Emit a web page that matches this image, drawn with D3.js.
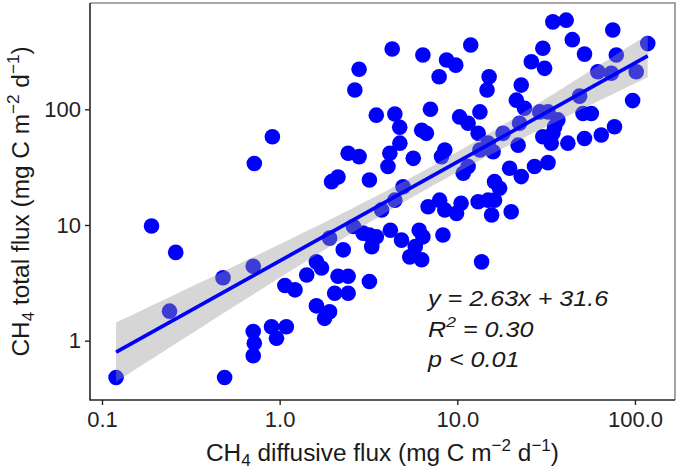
<!DOCTYPE html>
<html>
<head>
<meta charset="utf-8">
<script src="https://cdn.jsdelivr.net/npm/d3@7"></script>
<style>
  html, body { margin: 0; padding: 0; background: #fff; }
  svg { display: block; font-family: "Liberation Sans", Arial, sans-serif; }
</style>
</head>
<body>
<div id="chart"></div>
<script>
// CH4 diffusive flux (x) vs total flux (y), mg C m-2 d-1
const diffusiveFlux = [
  0.12, 0.49, 0.19, 0.26, 0.24, 0.48, 0.71, 0.72, 0.91, 0.71,
  0.72, 0.71, 0.90, 1.09, 0.96, 1.07, 1.22, 1.42, 1.61, 1.72,
  1.61, 1.91, 1.79, 2.04, 2.43, 2.13, 2.43, 3.2, 2.28, 1.91,
  2.6, 2.95, 3.2, 3.5, 3.3, 4.2, 4.85, 5.8, 5.4, 6.3,
  6.1, 6.4, 8.3, 13.7, 1.96, 2.13, 3.2, 4.95, 4.45, 3.75,
  2.43, 2.8, 4.17, 4.75, 4.07, 5.65, 8.5, 8.15, 10.8, 11.5,
  6.85, 7.95, 8.5, 9.9, 10.5, 13.1, 14.9, 16.2, 15.6, 20.1,
  16.2, 17.3, 19.7, 22.9, 27.2, 32.4, 10.3, 11.5, 13.4, 13.1,
  18.1, 14.9, 13.4, 15.9, 22, 22.4, 21.5, 23.9, 29.1, 32.4,
  36.8, 35.3, 30.3, 33.8, 41.9, 52, 64.6, 76.7, 51, 56.8,
  48.8, 97, 34.5, 22.9, 15.1, 14.7, 11.9, 9.8, 8.7, 7.9,
  6.4, 4.3, 2.8, 2.65, 7.06, 3.5, 4.45, 4.74, 6.3, 6.7,
  34.5, 41, 75, 44.4, 118, 30.3, 52, 78.5, 26.1, 31,
  61.8, 73.6, 101.6
];
const totalFlux = [
  0.48, 0.48, 9.8, 5.8, 1.8, 3.5, 4.4, 34, 58, 1.2,
  0.95, 0.74, 1.32, 1.32, 1.05, 3.0, 2.75, 3.7, 4.8, 4.25,
  2.0, 1.78, 1.56, 2.57, 2.57, 3.6, 3.6, 3.25, 6.1, 7.7,
  9.7, 8.5, 8.2, 7.9, 6.5, 9.0, 7.4, 6.5, 5.3, 5.0,
  9.0, 7.9, 8.2, 4.8, 23.7, 26, 24.5, 21.4, 16.4, 13.5,
  41.7, 39, 41.7, 51, 32, 37.7, 44.5, 39, 28, 32,
  14.4, 16.4, 13.5, 12.6, 15.4, 15.9, 16.4, 16.4, 12.2, 13.0,
  23.7, 20.8, 30.9, 26.2, 32, 34.6, 86, 75.7, 95, 62,
  62, 51, 44.5, 43, 49, 75.7, 120, 102, 95, 95,
  81, 70.7, 58, 51, 51, 56, 60, 70.7, 92, 92,
  130, 119, 62, 162, 191, 147, 360, 241, 267, 191,
  295, 332, 222, 147, 100, 89, 91, 70, 66, 62,
  570, 590, 485, 400, 370, 337, 300, 295, 258, 226,
  211, 205, 211
];

const xTickValues = [0.1, 1, 10, 100];
const xTickLabels = ["0.1", "1.0", "10.0", "100.0"];
const yTickValues = [1, 10, 100];
const yTickLabels = ["1", "10", "100"];
const xDomain = [0.0856, 168];
const yDomain = [0.307, 830];

const statLines = [
  [{ t: "y = 2.63x + 31.6" }],
  [{ t: "R" }, { t: "2", sup: true }, { t: " = 0.30" }],
  [{ t: "p < 0.01" }],
];
const xTitle = [
  { t: "CH" }, { t: "4", sub: true }, { t: " diffusive flux (mg C m" },
  { t: "\u22122", sup: true }, { t: " d" }, { t: "\u22121", sup: true }, { t: ")" },
];
const yTitle = [
  { t: "CH" }, { t: "4", sub: true }, { t: " total flux (mg C m" },
  { t: "\u22122", sup: true }, { t: " d" }, { t: "\u22121", sup: true }, { t: ")" },
];

class FluxScatter {
  constructor({ el, xs, ys }) {
    this.el = el;
    this.data = xs.map((x, i) => ({ x, y: ys[i] }));
    this.initVis();
  }

  initVis() {
    const vis = this;
    vis.width = 678;
    vis.height = 473;
    vis.margin = { top: 3, right: 3, bottom: 73, left: 90 };
    vis.blue = "#0000ff";

    vis.svg = d3
      .select(vis.el)
      .append("svg")
      .attr("width", vis.width)
      .attr("height", vis.height);

    vis.x = d3
      .scaleLog()
      .domain(xDomain)
      .range([vis.margin.left, vis.width - vis.margin.right]);
    vis.y = d3
      .scaleLog()
      .domain(yDomain)
      .range([vis.height - vis.margin.bottom, vis.margin.top]);

    vis.wrangleData();
  }

  wrangleData() {
    const vis = this;
    // linear fit in log-log space with 95% confidence band (like geom_smooth)
    const lx = vis.data.map((d) => Math.log10(d.x));
    const ly = vis.data.map((d) => Math.log10(d.y));
    const n = lx.length;
    const mx = d3.mean(lx);
    const my = d3.mean(ly);
    const sxx = d3.sum(lx, (v) => (v - mx) ** 2);
    const sxy = d3.sum(lx, (v, i) => (v - mx) * (ly[i] - my));
    const b = sxy / sxx;
    const a = my - b * mx;
    const s = Math.sqrt(d3.sum(lx, (v, i) => (ly[i] - a - b * v) ** 2) / (n - 2));
    const t = 1.978;
    const [x0, x1] = d3.extent(lx);
    vis.fit = d3.range(80).map((i) => {
      const u = x0 + ((x1 - x0) * i) / 79;
      const yhat = a + b * u;
      const se = s * Math.sqrt(1 / n + (u - mx) ** 2 / sxx);
      return {
        x: 10 ** u,
        y: 10 ** yhat,
        lo: 10 ** (yhat - t * se),
        hi: 10 ** (yhat + t * se),
      };
    });
    vis.updateVis();
  }

  updateVis() {
    const vis = this;
    const left = vis.margin.left;
    const right = vis.width - vis.margin.right;
    const top = vis.margin.top;
    const bottom = vis.height - vis.margin.bottom;

    // points
    vis.svg
      .append("g")
      .selectAll("circle")
      .data(vis.data)
      .join("circle")
      .attr("cx", (d) => vis.x(d.x))
      .attr("cy", (d) => vis.y(d.y))
      .attr("r", 7.8)
      .attr("fill", vis.blue);

    // confidence band + fitted line
    vis.svg
      .append("path")
      .datum(vis.fit)
      .attr("fill", "#999999")
      .attr("fill-opacity", 0.4)
      .attr(
        "d",
        d3
          .area()
          .x((d) => vis.x(d.x))
          .y0((d) => vis.y(d.lo))
          .y1((d) => vis.y(d.hi))
      );
    vis.svg
      .append("path")
      .datum(vis.fit)
      .attr("fill", "none")
      .attr("stroke", vis.blue)
      .attr("stroke-width", 3.6)
      .attr(
        "d",
        d3
          .line()
          .x((d) => vis.x(d.x))
          .y((d) => vis.y(d.y))
      );

    // panel frame
    vis.svg
      .append("path")
      .attr("d", `M${left},${top}H${right}V${bottom}`)
      .attr("fill", "none")
      .attr("stroke", "#8c8c8c")
      .attr("stroke-width", 1.6);
    vis.svg
      .append("path")
      .attr("d", `M${left},${top}V${bottom}H${right}`)
      .attr("fill", "none")
      .attr("stroke", "#262626")
      .attr("stroke-width", 1.6);

    // axes
    vis.svg
      .append("g")
      .attr("transform", `translate(0,${bottom})`)
      .call(
        d3
          .axisBottom(vis.x)
          .tickValues(xTickValues)
          .tickFormat((d, i) => xTickLabels[i])
          .tickSize(5)
          .tickPadding(6)
      )
      .call((g) => g.select(".domain").remove())
      .call((g) => g.selectAll(".tick line").attr("stroke", "#262626").attr("stroke-width", 1.4))
      .call((g) =>
        g
          .selectAll(".tick text")
          .attr("font-size", 22)
          .attr("font-family", null)
          .attr("fill", "#222")
      );
    vis.svg
      .append("g")
      .attr("transform", `translate(${left},0)`)
      .call(
        d3
          .axisLeft(vis.y)
          .tickValues(yTickValues)
          .tickFormat((d, i) => yTickLabels[i])
          .tickSize(5)
          .tickPadding(4)
      )
      .call((g) => g.select(".domain").remove())
      .call((g) => g.selectAll(".tick line").attr("stroke", "#262626").attr("stroke-width", 1.4))
      .call((g) =>
        g
          .selectAll(".tick text")
          .attr("font-size", 22)
          .attr("font-family", null)
          .attr("fill", "#222")
      );

    // axis titles
    vis.richText(
      vis.svg
        .append("text")
        .attr("x", (left + right) / 2)
        .attr("y", 461)
        .attr("text-anchor", "middle"),
      xTitle,
      24.4
    );
    vis.richText(
      vis.svg
        .append("text")
        .attr("transform", `translate(29,${(top + bottom) / 2}) rotate(-90)`)
        .attr("text-anchor", "middle"),
      yTitle,
      24.4
    );

    // fit statistics (glyphs in the figure are a little wider than Arial)
    statLines.forEach((segs, i) => {
      vis.richText(
        vis.svg
          .append("text")
          .attr("transform", `translate(428,${306 + i * 30.5}) scale(1.17,1)`)
          .attr("font-style", "italic"),
        segs,
        21.5
      );
    });
  }

  richText(text, segs, size) {
    text.attr("font-size", size).attr("fill", "#1a1a1a");
    let shift = 0;
    segs.forEach((s) => {
      const target = s.sup ? -0.42 * size : s.sub ? 0.22 * size : 0;
      text
        .append("tspan")
        .attr("dy", target - shift)
        .attr("font-size", s.sup || s.sub ? size * 0.7 : size)
        .text(s.t);
      shift = target;
    });
  }
}

new FluxScatter({
  el: document.getElementById("chart"),
  xs: diffusiveFlux,
  ys: totalFlux,
});
</script>
</body>
</html>
